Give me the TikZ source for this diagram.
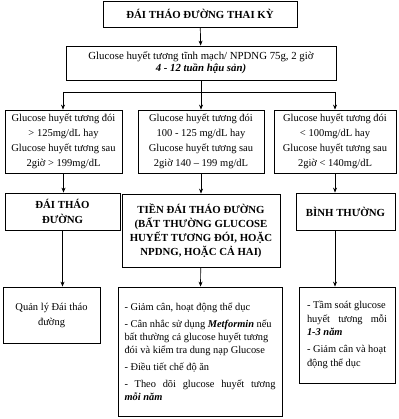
\documentclass[tikz,border=0pt]{standalone}
\usepackage{fontspec}
\setmainfont{Liberation Serif}
\usetikzlibrary{arrows.meta, positioning, calc}
\tikzset{
  box/.style={rectangle, draw=black, line width=0.8pt, align=center,
    inner sep=2pt, font=\fontsize{10.3}{14}\selectfont},
  headbox/.style={box, font=\bfseries\fontsize{10.8}{15}\selectfont},
  testbox/.style={box, font=\fontsize{10.5}{15}\selectfont},
  listbox/.style={box, align=left, font=\fontsize{10.4}{13}\selectfont},
  arrow/.style={-{Stealth[length=5pt, width=4pt]}, line width=0.7pt},
  line/.style={line width=0.7pt}
}
\begin{document}
\begin{tikzpicture}[x=1pt, y=-1pt]
  \useasboundingbox (0,0) rectangle (398,419);
  % Top of the chart
  \node[headbox, minimum width=194pt, minimum height=26pt] (title) at (200,14) {ĐÁI THÁO ĐƯỜNG THAI KỲ};
  \node[box, minimum width=270pt, minimum height=34pt, font=\fontsize{10.8}{12}\selectfont] (ogtt) at (201,63)
    {Glucose huyết tương tĩnh mạch/ NPDNG 75g, 2 giờ\\ \textbf{\textit{4 - 12 tuần hậu sản)}}};

  % Test results
  \node[testbox, minimum width=117pt, minimum height=63pt] (lo3) at (63.5,141.5)
    {Glucose huyết tương đói\\ > 125mg/dL hay\\ Glucose huyết tương sau\\ 2giờ > 199mg/dL};
  \node[testbox, minimum width=126pt, minimum height=63pt] (mid3) at (201,141.5)
    {Glucose huyết tương đói\\ 100 - 125 mg/dL hay\\ Glucose huyết tương sau\\ 2giờ 140 – 199 mg/dL};
  \node[testbox, minimum width=122pt, minimum height=63pt] (hi3) at (335,141.5)
    {Glucose huyết tương đói\\ < 100mg/dL hay\\ Glucose huyết tương sau\\ 2giờ < 140mg/dL};

  % Diagnosis
  \node[headbox, minimum width=115pt, minimum height=37pt] (lo4) at (62.5,211.5) {ĐÁI THÁO\\ ĐƯỜNG};
  \node[headbox, minimum width=158pt, minimum height=73pt, font=\bfseries\fontsize{10.8}{14}\selectfont] (mid4) at (201,230.5)
    {TIỀN ĐÁI THÁO ĐƯỜNG\\ (BẤT THƯỜNG GLUCOSE\\ HUYẾT TƯƠNG ĐÓI, HOẶC\\ NPDNG, HOẶC CẢ HAI)};
  \node[headbox, minimum width=99pt, minimum height=37pt] (hi4) at (345.5,211.5) {BÌNH THƯỜNG};

  % Management
  \node[box, minimum width=97pt, minimum height=56pt, font=\fontsize{10.5}{15}\selectfont] (lo5) at (51.5,315)
    {Quản lý Đái tháo\\ đường};
  \node[listbox, minimum width=164pt, minimum height=129pt] (mid5) at (200,351.5)
    {- Giảm cân, hoạt động thể dục\\[4pt]
     - Cân nhắc sử dụng \textbf{\textit{Metformin}} nếu\\
     bất thường cả glucose huyết tương\\
     đói và kiểm tra dung nạp Glucose\\[4pt]
     - Điều tiết chế độ ăn\\[4pt]
     \makebox[151pt][s]{- Theo dõi glucose huyết tương}\\
     \textbf{\textit{mỗi năm}}};
  \node[listbox, minimum width=96pt, minimum height=96pt, font=\fontsize{10.4}{13.5}\selectfont] (hi5) at (347,335)
    {- Tầm soát glucose\\
     \makebox[80pt][s]{huyết tương mỗi}\\
     \textbf{\textit{1-3 năm}}\\[3.5pt]
     - Giảm cân và hoạt\\
     động thể dục};

  % Connectors
  \coordinate (bl) at (63,92);
  \coordinate (br) at (335,92);
  \draw[arrow] (title) -- (ogtt);
  \draw[arrow] (ogtt.south) -- (mid3.north);
  \draw[line] (bl) -- (br);
  \draw[arrow] (bl) -- (bl |- lo3.north);
  \draw[arrow] (br) -- (br |- hi3.north);

  \draw[arrow] (lo3.south) -- (lo3.south |- lo4.north);
  \draw[arrow] (mid3) -- (mid4);
  \draw[arrow] (hi3.south) -- (hi3.south |- hi4.north);

  \draw[arrow] (lo4.south) -- (lo4.south |- lo5.north);
  \draw[arrow] (mid4) -- (mid5);
  \draw[arrow] (hi3.south |- hi4.south) -- (hi3.south |- hi5.north);
\end{tikzpicture}
\end{document}
